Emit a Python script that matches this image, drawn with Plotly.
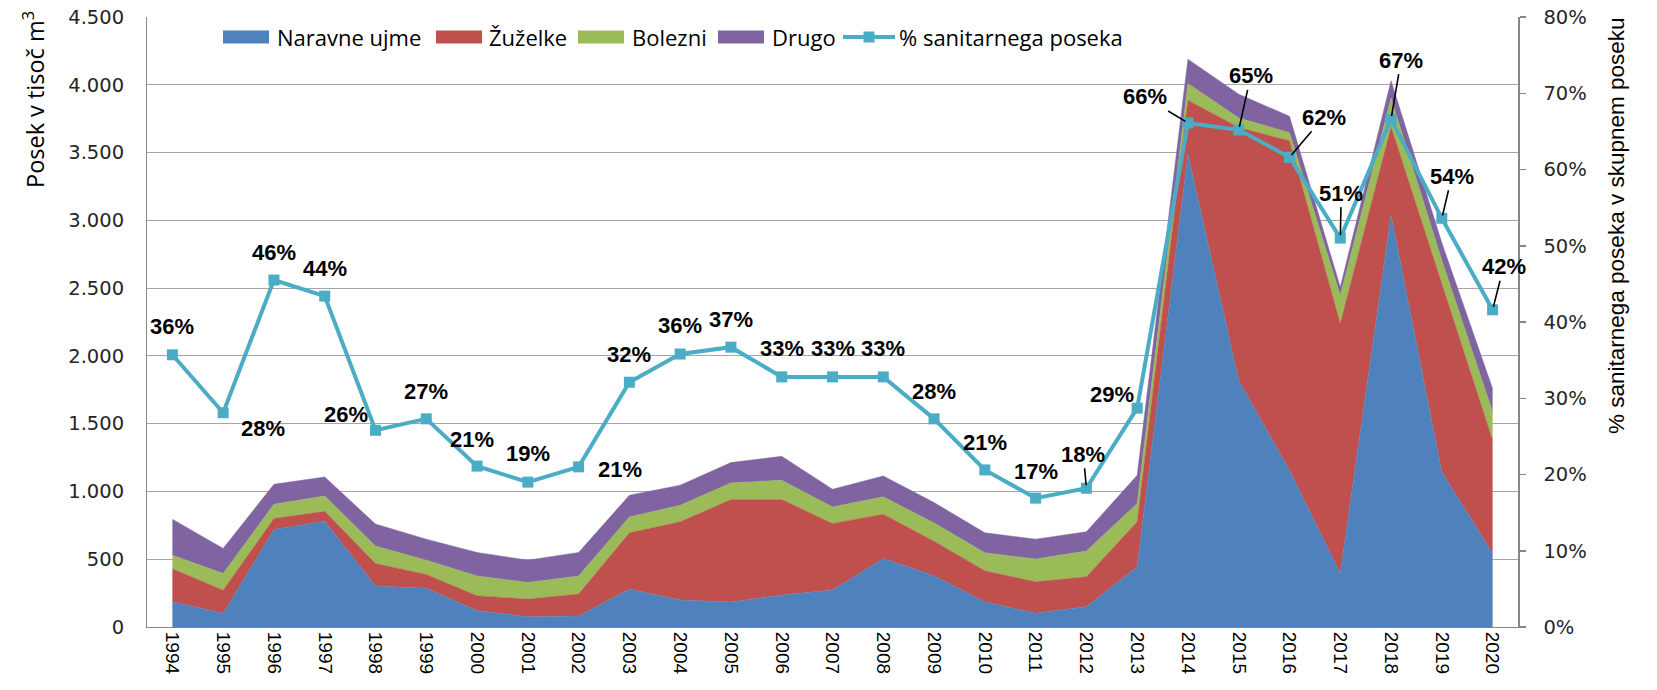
import plotly.graph_objects as go

# ---------------- data ----------------
years = list(range(1994, 2021))
naravne_ujme = [186, 101, 719, 781, 302, 285, 120, 76, 81, 280, 199, 184, 236, 273, 506,
                378, 186, 101, 150, 444, 3489, 1819, 1156, 395, 3040, 1144, 543]
zuzelke = [243, 171, 81, 73, 167, 103, 111, 130, 162, 415, 577, 756, 704, 491, 326,
           255, 229, 233, 220, 332, 397, 1866, 2431, 1842, 650, 1390, 834]
bolezni = [101, 123, 106, 113, 128, 105, 145, 123, 133, 117, 122, 123, 143, 122, 128,
           135, 132, 167, 190, 135, 123, 70, 60, 208, 210, 170, 209]
drugo = [265, 185, 147, 140, 162, 155, 174, 164, 174, 160, 148, 150, 176, 130, 154,
         150, 148, 147, 142, 208, 179, 176, 120, 61, 130, 130, 172]
pct_sanitarni = [35.7, 28.1, 45.5, 43.4, 25.8, 27.3, 21.1, 19.0, 21.0, 32.1, 35.8, 36.7, 32.8,
                 32.8, 32.8, 27.3, 20.6, 16.9, 18.2, 28.7, 66.1, 65.2, 61.6, 51.0, 66.6, 53.6, 41.6]
pct_labels = ["36%", "28%", "46%", "44%", "26%", "27%", "21%", "19%", "21%", "32%", "36%",
              "37%", "33%", "33%", "33%", "28%", "21%", "17%", "18%", "29%", "66%", "65%",
              "62%", "51%", "67%", "54%", "42%"]
series_names = ["Naravne ujme", "Žuželke", "Bolezni", "Drugo"]
line_name = "% sanitarnega poseka"
y_title = "Posek v tisoč m<sup>3</sup>"
y2_title = "% sanitarnega poseka v skupnem poseku"

# label placement (pixel offsets from the point, and whether a leader line is drawn)
label_dx = [0, 40, 0, 0, -30, 0, -5, 0, 41, 0, 0, 0, 0, 0, 0, 0, 0, 0, -3, -25,
            -43, 12, 34, 1, 10, 10, 11]
label_dy = [-28, 16, -28, -28, -16, -27, -27, -29, 3, -28, -29, -28, -28, -28, -28, -27,
            -27, -27, -34, -14, -26, -54, -40, -45, -59, -42, -43]
label_leader = [False] * 18 + [True, False] + [True] * 7

# ---------------- style / layout ----------------
colors = ["#4F81BD", "#C0504D", "#9BBB59", "#8064A2"]
line_color = "#4BACC6"
grid_color = "#A6A6A6"
axis_color = "#868686"
font_main = "Liberation Sans, Arial, sans-serif"
font_tick = "DejaVu Sans, Verdana, sans-serif"
font_legend = "Open Sans, sans-serif"

W, H = 1657, 690
ML, MR, MT, MB = 147, 139, 17, 63
PW, PH = W - ML - MR, H - MT - MB


def px_x(p):
    return (p - ML) / PW


def px_y(p):
    return (H - MB - p) / PH


fig = go.Figure()
for name, vals, col in zip(series_names, [naravne_ujme, zuzelke, bolezni, drugo], colors):
    fig.add_trace(go.Scatter(
        x=years, y=vals, name=name, stackgroup="one", mode="lines",
        line=dict(width=0.5, color=col), fillcolor=col, yaxis="y", showlegend=False,
    ))

fig.add_trace(go.Scatter(
    x=years, y=pct_sanitarni, name=line_name, mode="lines+markers", yaxis="y2",
    line=dict(color=line_color, width=4),
    marker=dict(symbol="square", size=11, color=line_color), showlegend=False,
))

annotations = []
for yr, p, lab, dx, dy, lead in zip(years, pct_sanitarni, pct_labels, label_dx, label_dy, label_leader):
    if lead:
        annotations.append(dict(
            x=yr, y=p, xref="x", yref="y2", text="<b>" + lab + "</b>", showarrow=True,
            ax=dx, ay=dy, arrowhead=0, arrowwidth=1.6, arrowcolor="black", standoff=3,
            font=dict(family=font_main, size=22, color="black"),
        ))
    else:
        annotations.append(dict(
            x=yr, y=p, xref="x", yref="y2", text="<b>" + lab + "</b>", showarrow=False,
            xshift=dx, yshift=-dy,
            font=dict(family=font_main, size=22, color="black"),
        ))

# axis titles
annotations.append(dict(
    x=px_x(34), y=px_y(100), xref="paper", yref="paper", text=y_title, showarrow=False,
    textangle=-90, font=dict(family=font_legend, size=23.5, color="black"),
    xanchor="center", yanchor="middle",
))
annotations.append(dict(
    x=px_x(1617), y=px_y(226), xref="paper", yref="paper", text=y2_title, showarrow=False,
    textangle=-90, font=dict(family=font_main, size=22.5, color="black"),
    xanchor="center", yanchor="middle",
))

# legend drawn by hand (wide rectangle swatches as in the reference)
shapes = []
legend_swatch_x = [223, 436, 578, 718]
legend_text_x = [275, 487, 630, 770, 897]
leg_y = 37
for sx, col in zip(legend_swatch_x, colors):
    shapes.append(dict(type="rect", xref="paper", yref="paper",
                       x0=px_x(sx), x1=px_x(sx + 46), y0=px_y(leg_y + 6.5), y1=px_y(leg_y - 6.5),
                       fillcolor=col, line=dict(width=0)))
shapes.append(dict(type="line", xref="paper", yref="paper",
                   x0=px_x(843), x1=px_x(895), y0=px_y(leg_y), y1=px_y(leg_y),
                   line=dict(color=line_color, width=4)))
shapes.append(dict(type="rect", xref="paper", yref="paper",
                   x0=px_x(863.5), x1=px_x(874.5), y0=px_y(leg_y + 5.5), y1=px_y(leg_y - 5.5),
                   fillcolor=line_color, line=dict(width=0)))
for tx, name in zip(legend_text_x, series_names + [line_name]):
    annotations.append(dict(
        x=px_x(tx), y=px_y(leg_y), xref="paper", yref="paper", text=name, showarrow=False,
        xanchor="left", yanchor="middle", font=dict(family=font_legend, size=22, color="black"),
    ))

fig.update_layout(
    width=W, height=H,
    margin=dict(l=ML, r=MR, t=MT, b=MB, autoexpand=False),
    paper_bgcolor="white", plot_bgcolor="white",
    separators=",.",
    showlegend=False,
    hovermode=False,
    xaxis=dict(
        range=[1993.5, 2020.5], tickvals=years, ticktext=[str(y) for y in years],
        tickangle=90, showgrid=False, showline=True, linecolor=axis_color, linewidth=1,
        ticks="", tickfont=dict(family=font_main, size=19, color="black"),
        zeroline=False, automargin=False,
    ),
    yaxis=dict(
        range=[0, 4500], dtick=500, tickformat=",d", showgrid=True, gridcolor=grid_color,
        gridwidth=1, showline=True, linecolor=axis_color, linewidth=1, zeroline=False,
        ticks="", ticklabelstandoff=18, automargin=False,
        tickfont=dict(family=font_tick, size=19.5, color="#262626"),
    ),
    yaxis2=dict(
        range=[0, 80], dtick=10, ticksuffix="%", overlaying="y", side="right",
        showgrid=False, showline=True, linecolor=axis_color, linewidth=1.5, zeroline=False,
        ticks="outside", ticklen=6, tickcolor=axis_color, tickwidth=1.5, ticklabelstandoff=14,
        automargin=False,
        tickfont=dict(family=font_tick, size=19.5, color="#262626"),
    ),
    annotations=annotations,
    shapes=shapes,
)

# the page's default 8px body margin would offset the whole figure; remove it
fig.write_html(
    "out.html",
    config={"displayModeBar": False, "staticPlot": True},
    post_script="document.body.style.margin='0px';document.body.style.overflow='hidden';",
)
